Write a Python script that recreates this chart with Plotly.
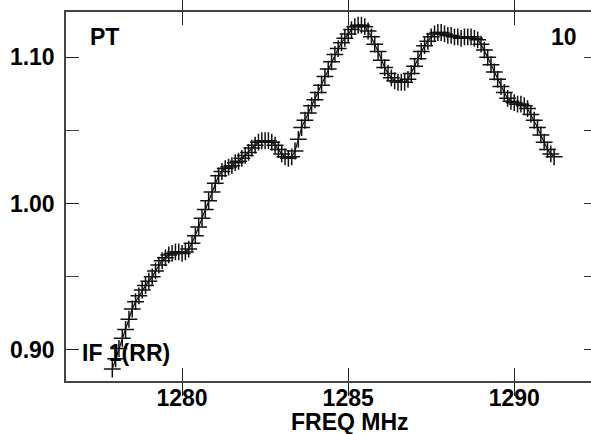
import plotly.graph_objects as go

freq_mhz = [
    1277.9, 1278.0, 1278.1, 1278.2, 1278.3, 1278.4, 1278.5, 1278.6, 1278.7, 1278.8, 1278.9,
    1279.0, 1279.1, 1279.2, 1279.3, 1279.4, 1279.5, 1279.6, 1279.7, 1279.8, 1279.9,
    1280.0, 1280.1, 1280.2, 1280.3, 1280.4, 1280.5, 1280.6, 1280.7, 1280.8, 1280.9,
    1281.0, 1281.1, 1281.2, 1281.3, 1281.4, 1281.5, 1281.6, 1281.7, 1281.8, 1281.9,
    1282.0, 1282.1, 1282.2, 1282.3, 1282.4, 1282.5, 1282.6, 1282.7, 1282.8, 1282.9,
    1283.0, 1283.1, 1283.2, 1283.3, 1283.4, 1283.5, 1283.6, 1283.7, 1283.8, 1283.9,
    1284.0, 1284.1, 1284.2, 1284.3, 1284.4, 1284.5, 1284.6, 1284.7, 1284.8, 1284.9,
    1285.0, 1285.1, 1285.2, 1285.3, 1285.4, 1285.5, 1285.6, 1285.7, 1285.8, 1285.9,
    1286.0, 1286.1, 1286.2, 1286.3, 1286.4, 1286.5, 1286.6, 1286.7, 1286.8, 1286.9,
    1287.0, 1287.1, 1287.2, 1287.3, 1287.4, 1287.5, 1287.6, 1287.7, 1287.8, 1287.9,
    1288.0, 1288.1, 1288.2, 1288.3, 1288.4, 1288.5, 1288.6, 1288.7, 1288.8, 1288.9,
    1289.0, 1289.1, 1289.2, 1289.3, 1289.4, 1289.5, 1289.6, 1289.7, 1289.8, 1289.9,
    1290.0, 1290.1, 1290.2, 1290.3, 1290.4, 1290.5, 1290.6, 1290.7, 1290.8, 1290.9,
    1291.0, 1291.1, 1291.2,
]

amplitude = [
    0.887, 0.894, 0.901, 0.908, 0.914, 0.921, 0.928, 0.933, 0.937, 0.941, 0.944,
    0.947, 0.950, 0.954, 0.958, 0.961, 0.963, 0.965, 0.966, 0.967, 0.967,
    0.966, 0.967, 0.969, 0.973, 0.978, 0.984, 0.990, 0.996, 1.002, 1.008,
    1.014, 1.019, 1.022, 1.024, 1.025, 1.026, 1.028, 1.029, 1.031, 1.033,
    1.035, 1.038, 1.040, 1.042, 1.043, 1.043, 1.043, 1.042, 1.040, 1.037,
    1.034, 1.032, 1.031, 1.032, 1.036, 1.044, 1.052, 1.057, 1.062, 1.067,
    1.071, 1.076, 1.081, 1.087, 1.092, 1.097, 1.102, 1.106, 1.110, 1.113,
    1.116, 1.119, 1.121, 1.122, 1.122, 1.121, 1.118, 1.114, 1.109, 1.104,
    1.098, 1.093, 1.089, 1.086, 1.084, 1.083, 1.083, 1.083, 1.085, 1.089,
    1.094, 1.099, 1.104, 1.108, 1.111, 1.114, 1.116, 1.117, 1.117, 1.116,
    1.115, 1.115, 1.114, 1.114, 1.113, 1.114, 1.114, 1.114, 1.113, 1.112,
    1.109, 1.105, 1.100, 1.095, 1.090, 1.085, 1.080, 1.076, 1.072, 1.070,
    1.069, 1.068, 1.068, 1.067, 1.065, 1.061, 1.057, 1.052, 1.047, 1.042,
    1.037, 1.034, 1.032,
]

x_tick_vals = [1280, 1285, 1290]
y_tick_vals = [0.90, 1.00, 1.10]
y_tick_text = ["0.90", "1.00", "1.10"]

FONT = "Liberation Sans, Arial, sans-serif"
x_range = [1276.506, 1292.31]
y_range = [0.8788, 1.131]

fig = go.Figure()
fig.add_trace(go.Scatter(
    x=freq_mhz, y=amplitude, mode="lines+markers",
    line=dict(color="#111111", width=1.2),
    marker=dict(symbol="cross-thin", size=12, line=dict(color="#111111", width=1.5)),
    showlegend=False, hoverinfo="skip",
))

fig.update_layout(
    width=591, height=434,
    margin=dict(l=66, r=0, t=12, b=53),
    paper_bgcolor="white", plot_bgcolor="white",
    font=dict(family=FONT, size=23, color="black"),
    xaxis=dict(
        range=x_range, tickvals=x_tick_vals, ticktext=[str(v) for v in x_tick_vals],
        ticks="inside", ticklen=13, tickwidth=1, tickcolor="#222",
        showline=True, linecolor="#444", linewidth=1.5, mirror="allticks",
        showgrid=False, zeroline=False, automargin=False, ticklabelstandoff=-4,
        tickfont=dict(family=FONT, size=23, color="black", weight="bold"),
    ),
    yaxis=dict(
        range=y_range, tickvals=y_tick_vals, ticktext=y_tick_text,
        ticks="inside", ticklen=13, tickwidth=1, tickcolor="#222",
        minor=dict(tickvals=[0.95, 1.05], ticks="inside", ticklen=13, tickcolor="#444", tickwidth=1),
        showline=True, linecolor="#444", linewidth=1.5, mirror=False,
        showgrid=False, zeroline=False, ticklabelstandoff=5, automargin=False,
        tickfont=dict(family=FONT, size=23, color="black", weight="bold"),
    ),
    yaxis2=dict(
        range=y_range, overlaying="y", side="right", matches="y",
        tickvals=[0.90, 0.95, 1.00, 1.05, 1.10], showticklabels=False,
        ticks="inside", ticklen=7, tickwidth=1, tickcolor="#333",
        showline=False, showgrid=False, zeroline=False, automargin=False,
    ),
)

fig.add_trace(go.Scatter(x=[None], y=[None], yaxis="y2", showlegend=False, hoverinfo="skip"))

ann_font = dict(family=FONT, size=23, color="black", weight="bold")
fig.add_annotation(text="PT", xref="paper", yref="paper", x=0.0724, y=0.932,
                   showarrow=False, font=ann_font, xanchor="center", yanchor="middle")
fig.add_annotation(text="10", xref="paper", yref="paper", x=0.9486, y=0.932,
                   showarrow=False, font=ann_font, xanchor="center", yanchor="middle")
fig.add_annotation(text="IF 1(RR)", xref="paper", yref="paper", x=0.1152, y=0.0759,
                   showarrow=False, font=ann_font, xanchor="center", yanchor="middle")
fig.add_annotation(text="FREQ MHz", xref="paper", yref="paper", x=0.541, y=-0.112,
                   showarrow=False, font=ann_font, xanchor="center", yanchor="middle")

fig.write_html(
    "out.html",
    config={"displayModeBar": False},
    post_script="document.body.style.margin='0';document.body.style.overflow='hidden';",
)
